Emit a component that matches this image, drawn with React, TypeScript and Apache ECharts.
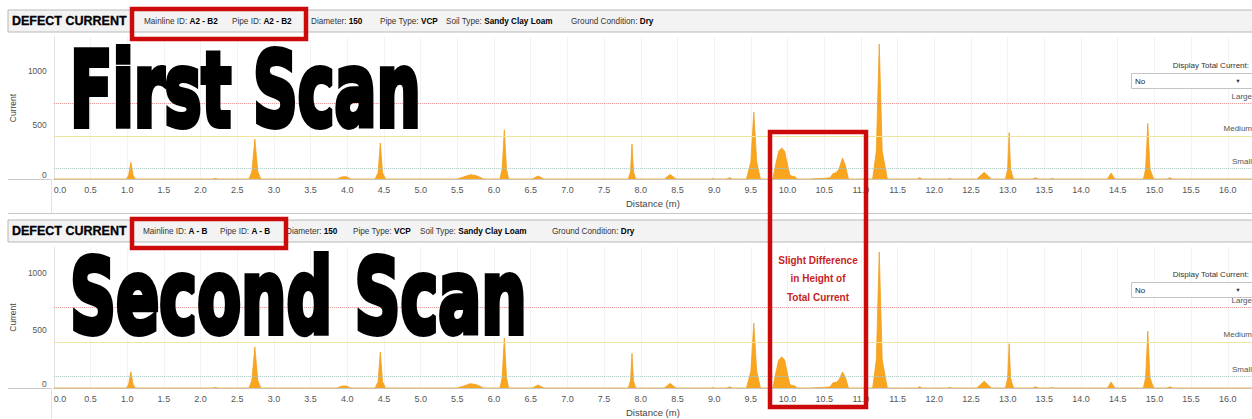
import React, { useEffect, useRef } from 'react';
import * as echarts from 'echarts';

// ---------- data ----------
const scan1Distance = [
  0,
  0.99, 1.02, 1.05, 1.08, 1.11,
  2.16, 2.2, 2.24,
  2.66, 2.7, 2.74, 2.78, 2.82,
  3.86, 3.92, 3.98, 4.05,
  4.38, 4.42, 4.45, 4.48, 4.52,
  5.5, 5.6, 5.68, 5.76, 5.86,
  6.08, 6.11, 6.14, 6.17, 6.2,
  6.52, 6.6, 6.68,
  7.83, 7.86, 7.88, 7.9, 7.93,
  8.32, 8.4, 8.48,
  8.96, 8.98, 9.0,
  9.17, 9.21, 9.25,
  9.44, 9.5, 9.54, 9.58, 9.63,
  9.8, 9.84, 9.88, 9.92, 9.96, 10.0, 10.03, 10.06, 10.1, 10.13,
  10.3, 10.4, 10.5, 10.58, 10.62, 10.66, 10.7, 10.75, 10.79, 10.83,
  11.16, 11.21, 11.25, 11.29, 11.36,
  11.77, 11.8, 11.83,
  12.18, 12.21, 12.24,
  12.58, 12.68, 12.78,
  12.97, 13.0, 13.02, 13.04, 13.08,
  13.34, 13.38, 13.42,
  13.58, 13.61, 13.64,
  14.36, 14.41, 14.46,
  14.85, 14.88, 14.91, 14.94, 14.99,
  15.17, 15.21, 15.25,
  16.33,
];
const scan1Current = [
  0,
  0, 35, 155, 35, 0,
  0, 6, 0,
  0, 70, 370, 70, 0,
  0, 18, 22, 0,
  0, 60, 335, 60, 0,
  0, 22, 40, 30, 0,
  0, 90, 455, 90, 0,
  0, 28, 0,
  0, 70, 325, 70, 0,
  0, 42, 0,
  0, 6, 0,
  0, 12, 0,
  0, 160, 620, 160, 0,
  0, 140, 260, 287, 260, 130, 40, 25, 24, 0,
  0, 4, 6, 12, 50, 58, 90, 195, 120, 0,
  0, 260, 1250, 260, 0,
  0, 14, 0,
  0, 7, 0,
  0, 62, 0,
  0, 90, 430, 90, 0,
  0, 12, 0,
  0, 6, 0,
  0, 55, 0,
  0, 90, 515, 90, 0,
  0, 12, 0,
  0,
];
const scan2Distance = scan1Distance.slice();
const scan2Current = [
  0,
  0, 32, 140, 32, 0,
  0, 5, 0,
  0, 68, 357, 68, 0,
  0, 16, 18, 0,
  0, 56, 313, 56, 0,
  0, 20, 38, 28, 0,
  0, 86, 435, 86, 0,
  0, 26, 0,
  0, 64, 300, 64, 0,
  0, 40, 0,
  0, 5, 0,
  0, 10, 0,
  0, 145, 565, 145, 0,
  0, 130, 245, 270, 245, 120, 35, 20, 20, 0,
  0, 3, 5, 10, 45, 48, 70, 140, 90, 0,
  0, 245, 1183, 245, 0,
  0, 12, 0,
  0, 6, 0,
  0, 58, 0,
  0, 85, 385, 85, 0,
  0, 10, 0,
  0, 5, 0,
  0, 52, 0,
  0, 88, 495, 88, 0,
  0, 10, 0,
  0,
];
const thresholdValues = [700, 400, 100];
const thresholdNames = ['Large', 'Medium', 'Small'];
const headerFields = ['Mainline ID:', 'Pipe ID:', 'Diameter:', 'Pipe Type:', 'Soil Type:', 'Ground Condition:'];
const header1Values = ['A2 - B2', 'A2 - B2', '150', 'VCP', 'Sandy Clay Loam', 'Dry'];
const header2Values = ['A - B', 'A - B', '150', 'VCP', 'Sandy Clay Loam', 'Dry'];
const scanTitles = ['First Scan', 'Second Scan'];
const noteLines = ['Slight Difference', 'in Height of', 'Total Current'];

// ---------- layout ----------
const FONT = '"Liberation Sans", Arial, Helvetica, sans-serif';
const X_MAX = 16.33;
const GRID_LEFT = 51;
const GRID_WIDTH = 1207;
const panels = [
  { top: 37, height: 142, yMax: 1315, headerY: 10, headerH: 22, titleY: 90, titleScale: 0.604, fieldX: [144, 232, 311, 380, 446, 571], values: header1Values, selectY: 73, dispY: 65 },
  { top: 247, height: 141, yMax: 1226, headerY: 220, headerH: 22, titleY: 297, titleScale: 0.62, fieldX: [143, 220, 286, 353, 420, 552], values: header2Values, selectY: 282, dispY: 274 },
];
const thresholdColors = ['#e88a8a', '#efe3a0', '#a8c6c0'];
const thresholdTypes = ['dotted', 'solid', 'dotted'];

function buildOption() {
  const grid = panels.map((p) => ({ left: GRID_LEFT, top: p.top, width: GRID_WIDTH, height: p.height }));
  const xAxis = panels.map((p, i) => ({
    type: 'value',
    gridIndex: i,
    min: 0,
    max: X_MAX,
    interval: 0.5,
    name: 'Distance (m)',
    nameLocation: 'middle',
    nameGap: 19,
    nameTextStyle: { fontSize: 9.5, color: '#444', fontFamily: FONT },
    axisLine: { lineStyle: { color: '#c8c8c8' } },
    axisTick: { show: false },
    axisLabel: {
      formatter: (v: number) => v.toFixed(1),
      color: '#555',
      fontSize: 9,
      fontFamily: FONT,
      margin: 6,
      showMaxLabel: false,
      alignMinLabel: 'left',
    },
    splitLine: { show: true, lineStyle: { color: '#f3f3f3' } },
  }));
  const yAxis = panels.map((p, i) => ({
    type: 'value',
    gridIndex: i,
    min: 0,
    max: p.yMax,
    interval: 500,
    name: 'Current',
    nameLocation: 'middle',
    nameGap: 34,
    nameRotate: 90,
    nameTextStyle: { fontSize: 8.5, color: '#444', fontFamily: FONT },
    axisLine: { show: true, lineStyle: { color: '#e2e2e2' } },
    axisTick: { show: false },
    axisLabel: {
      formatter: (v: number) => String(v),
      color: '#555',
      fontSize: 8.5,
      fontFamily: FONT,
      margin: 7,
      showMaxLabel: false,
      verticalAlignMinLabel: 'bottom',
    },
    splitLine: { show: false },
  }));
  const seriesData = [
    scan1Distance.map((d, k) => [d, scan1Current[k]]),
    scan2Distance.map((d, k) => [d, scan2Current[k]]),
  ];
  const series = panels.map((p, i) => ({
    type: 'line',
    xAxisIndex: i,
    yAxisIndex: i,
    data: seriesData[i],
    showSymbol: false,
    symbol: 'none',
    lineStyle: { color: '#f0a020', width: 0.8 },
    areaStyle: { color: '#f9a51e', opacity: 1 },
    z: 3,
    markLine: {
      silent: true,
      symbol: ['none', 'none'],
      data: thresholdValues.map((v, k) => ({
        yAxis: v,
        lineStyle: { color: thresholdColors[k], type: thresholdTypes[k], width: 1 },
        label: {
          formatter: thresholdNames[k],
          position: 'insideEndTop',
          color: '#555',
          fontSize: 8,
          fontFamily: FONT,
          distance: [0, 3],
        },
      })),
    },
  }));

  const graphic: any[] = [];
  panels.forEach((p, i) => {
    const axisY = p.top + p.height;
    graphic.push({
      type: 'rect',
      shape: { x: 8, y: p.headerY, width: 1260, height: p.headerH },
      style: { fill: '#f3f3f3', stroke: '#b8b8b8', lineWidth: 1 },
      z: 10,
    });
    graphic.push({
      type: 'text',
      x: 12,
      y: p.headerY + p.headerH / 2,
      style: { text: 'DEFECT CURRENT', font: `bold 12.5px ${FONT}`, fill: '#000', stroke: '#000', lineWidth: 0.3, verticalAlign: 'middle' },
      z: 11,
    });
    headerFields.forEach((f, k) => {
      graphic.push({
        type: 'text',
        x: p.fieldX[k],
        y: p.headerY + p.headerH / 2,
        style: {
          text: `{l|${f} }{v|${p.values[k]}}`,
          verticalAlign: 'middle',
          rich: {
            l: { fontSize: 8.2, fontFamily: FONT, fill: '#333' },
            v: { fontSize: 8.2, fontFamily: FONT, fontWeight: 'bold', fill: '#000' },
          },
        },
        z: 11,
      });
    });
    graphic.push({
      type: 'line',
      shape: { x1: 8, y1: axisY + 0.5, x2: GRID_LEFT, y2: axisY + 0.5 },
      style: { stroke: '#c8c8c8', lineWidth: 1 },
      z: 5,
    });
    graphic.push({
      type: 'line',
      shape: { x1: GRID_LEFT + 0.5, y1: axisY, x2: GRID_LEFT + 0.5, y2: axisY + 34 },
      style: { stroke: '#e2e2e2', lineWidth: 1 },
      z: 5,
    });
    graphic.push({
      type: 'text',
      x: 70,
      y: p.titleY,
      scaleX: p.titleScale,
      style: {
        text: scanTitles[i],
        font: `bold 103px "DejaVu Sans", sans-serif`,
        fill: '#000',
        stroke: '#000',
        lineWidth: 6,
        lineJoin: 'round',
        verticalAlign: 'middle',
      },
      z: 20,
    });
    graphic.push({
      type: 'text',
      x: 1249,
      y: p.dispY,
      style: { text: 'Display Total Current:', font: `8px ${FONT}`, fill: '#333', align: 'right', verticalAlign: 'middle' },
      z: 21,
    });
    graphic.push({
      type: 'rect',
      shape: { x: 1131.5, y: p.selectY + 0.5, width: 130, height: 15 },
      style: { fill: '#fff', stroke: '#c4c4c4', lineWidth: 1 },
      z: 21,
    });
    graphic.push({
      type: 'text',
      x: 1135,
      y: p.selectY + 8,
      style: { text: 'No', font: `8px ${FONT}`, fill: '#222', verticalAlign: 'middle' },
      z: 22,
    });
    graphic.push({
      type: 'text',
      x: 1238,
      y: p.selectY + 7.5,
      style: { text: '▼', font: `5.5px ${FONT}`, fill: '#333', align: 'center', verticalAlign: 'middle' },
      z: 22,
    });
  });
  graphic.push({
    type: 'line',
    shape: { x1: 8, y1: 213.5, x2: 1252, y2: 213.5 },
    style: { stroke: '#c8c8c8', lineWidth: 1 },
    z: 9,
  });
  const redBoxes = [
    { x: 132, y: 9, w: 174, h: 30 },
    { x: 132, y: 219, w: 154, h: 29 },
    { x: 770, y: 132, w: 96, h: 275 },
  ];
  redBoxes.forEach((b) => {
    graphic.push({
      type: 'rect',
      shape: { x: b.x, y: b.y, width: b.w, height: b.h },
      style: { fill: 'none', stroke: '#cc0a0a', lineWidth: 4.5 },
      z: 30,
    });
  });
  noteLines.forEach((t, k) => {
    graphic.push({
      type: 'text',
      x: 818,
      y: 260 + k * 18.5,
      style: { text: t, font: `bold 10px ${FONT}`, fill: '#c81e1e', align: 'center', verticalAlign: 'middle' },
      z: 30,
    });
  });

  return {
    animation: false,
    backgroundColor: '#ffffff',
    textStyle: { fontFamily: FONT },
    grid,
    xAxis,
    yAxis,
    series,
    graphic,
  };
}

export default function App() {
  const ref = useRef<HTMLDivElement>(null);
  useEffect(() => {
    document.body.style.margin = '0';
    const chart = echarts.init(ref.current as HTMLDivElement, null, { renderer: 'svg' });
    chart.setOption(buildOption() as any);
    return () => chart.dispose();
  }, []);
  return <div ref={ref} style={{ width: 1252, height: 419 }} />;
}
